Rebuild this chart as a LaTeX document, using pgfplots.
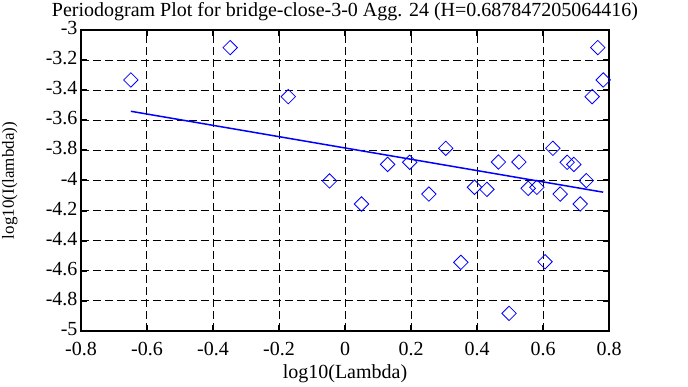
\documentclass[border=0pt]{standalone}
\usepackage{fontspec}
\setmainfont{Liberation Serif}
\usepackage{pgfplots}
\pgfplotsset{compat=1.18}
\begin{document}
\begin{tikzpicture}[x=1pt,y=1pt]
\useasboundingbox (-81,-56) rectangle (607,331);
\begin{axis}[
  at={(0,0)}, anchor=south west,
  scale only axis, width=528pt, height=301pt,
  xmin=-0.8, xmax=0.8, ymin=-5, ymax=-3,
  xtick={-0.8,-0.6,-0.4,-0.2,0,0.2,0.4,0.6,0.8},
  ytick={-5,-4.8,-4.6,-4.4,-4.2,-4,-3.8,-3.6,-3.4,-3.2,-3},
  grid=major,
  major grid style={black, line width=1pt, dash pattern=on 8pt off 4pt},
  axis line style={black, line width=2pt},
  tick style={black, line width=2pt},
  major tick length=6pt, tick align=inside,
  /pgf/number format/assume math mode=true,
  ticklabel style={font=\fontsize{20}{20}\selectfont},
  xticklabel style={yshift=-8pt},
  yticklabel style={yshift=2pt},
  xlabel={log10(Lambda)}, ylabel={log10(I(lambda))},
  xlabel style={font=\fontsize{20}{20}\selectfont, at={(axis description cs:0.5,0)}, anchor=center, yshift=-43pt},
  ylabel style={font=\fontsize{17}{17}\selectfont, at={(axis description cs:-0.135,0.5)}, anchor=center},
  title={Periodogram Plot for bridge-close-3-0 Agg. 24 (H=0.687847205064416)},
  title style={font=\fontsize{20}{20}\selectfont},
]
\addplot[blue, line width=1.5pt] coordinates {(-0.64898,-3.5400) (0.78238,-4.0777)};
\addplot[only marks, blue, mark=square, mark size=5.1pt, mark options={rotate=45, line width=0.8pt}] coordinates {
(-0.64898,-3.332)
(-0.34795,-3.117)
(-0.17186,-3.443)
(-0.04692,-4.003)
(0.04999,-4.156)
(0.12918,-3.893)
(0.19612,-3.879)
(0.25411,-4.090)
(0.30526,-3.786)
(0.35102,-4.544)
(0.39241,-4.045)
(0.43020,-4.059)
(0.46496,-3.877)
(0.49715,-4.883)
(0.52711,-3.877)
(0.55514,-4.052)
(0.58147,-4.045)
(0.60629,-4.540)
(0.62977,-3.786)
(0.65205,-4.090)
(0.67324,-3.879)
(0.69344,-3.893)
(0.71274,-4.156)
(0.73123,-4.001)
(0.74896,-3.443)
(0.76600,-3.117)
(0.78238,-3.332)
};
\end{axis}
\end{tikzpicture}
\end{document}
